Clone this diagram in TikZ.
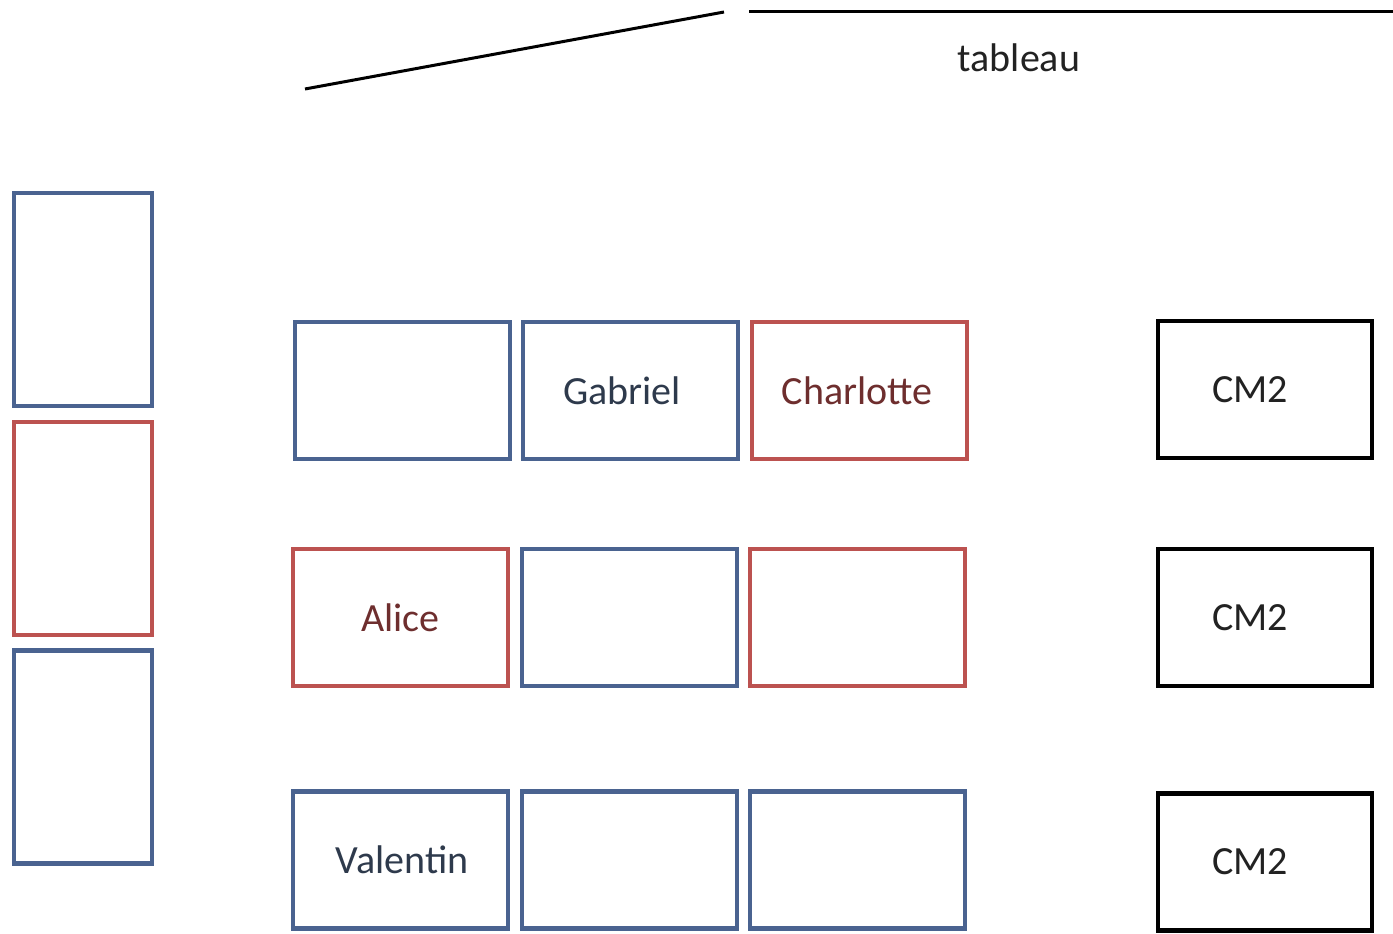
\documentclass[tikz,border=0pt]{standalone}
\usepackage{fontspec}
\setmainfont{Carlito}
\definecolor{boxblue}{HTML}{4A6390}
\definecolor{boxred}{HTML}{BC5250}
\definecolor{txtblue}{HTML}{2E3A4C}
\definecolor{txtred}{HTML}{6E2E2E}
\definecolor{txtgray}{HTML}{222222}
\begin{document}
\begin{tikzpicture}[x=1pt,y=-1pt,
  desk/.style={draw, line width=4.3pt, inner sep=0pt, outer sep=0pt, fill=white,
    font=\fontsize{40}{44}\selectfont},
  bdesk/.style={desk, draw=boxblue, text=txtblue},
  rdesk/.style={desk, draw=boxred, text=txtred},
  kdesk/.style={desk, draw=black, line width=4.5pt, text=txtgray},
  hbox/.style={minimum width=215pt, minimum height=137pt},
  vbox/.style={minimum width=138pt, minimum height=213pt},
  cbox/.style={minimum width=214pt, minimum height=137pt}]
\useasboundingbox (0,0) rectangle (1393,934);
% left column
\node[bdesk, vbox] (l1) at (83,299.5) {};
\node[rdesk, vbox] (l2) at (83,528.5) {};
\node[bdesk, vbox] (l3) at (83,757) {};
% row 1
\node[bdesk, hbox] (a1) at (402.5,390.5) {};
\node[bdesk, hbox] (a2) at (630.5,390.5) {\hspace*{-17pt}Gabriel};
\node[rdesk, hbox] (a3) at (859.5,390.5) {\hspace*{-5pt}Charlotte};
% row 2
\node[rdesk, hbox] (b1) at (400.5,617.5) {Alice};
\node[bdesk, hbox] (b2) at (629.5,617.5) {};
\node[rdesk, hbox] (b3) at (857.5,617.5) {};
% row 3
\node[bdesk, hbox] (c1) at (400.5,860) {\hspace*{3pt}Valentin};
\node[bdesk, hbox] (c2) at (629.5,860) {};
\node[bdesk, hbox] (c3) at (857.5,860) {};
% CM2
\node[kdesk, cbox] (m1) at (1265,389.5) {\hspace*{-30pt}CM2};
\node[kdesk, cbox] (m2) at (1265,617.5) {\hspace*{-30pt}CM2};
\node[kdesk, cbox] (m3) at (1265,862) {\hspace*{-30pt}CM2};
% board
\coordinate (s1) at (305,89);
\coordinate (s2) at (724,12);
\coordinate (t1) at (749,12);
\coordinate (t2) at (1393,12);
\draw[line width=3pt] (s1) -- (s2);
\draw[line width=3pt] (t1) -- (t2);
\node[font=\fontsize{40}{44}\selectfont, text=txtgray] (tab) at (1019,58) {tableau};
\end{tikzpicture}
\end{document}
